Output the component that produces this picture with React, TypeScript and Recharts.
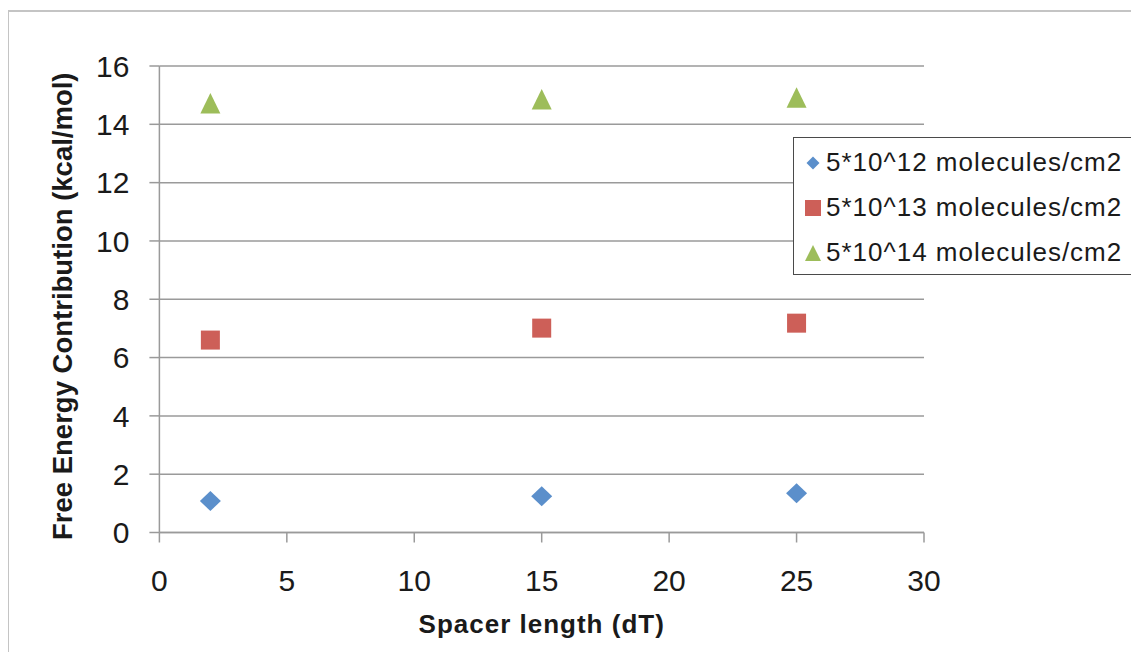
import React from 'react';
import { ScatterChart, Scatter, XAxis, YAxis, CartesianGrid } from 'recharts';

// spacer length (dT) and free energy contribution (kcal/mol) per surface density
const SPACER = [2, 15, 25];
const LOW = [1.08, 1.24, 1.35];
const MID = [6.6, 7.01, 7.18];
const HIGH = [14.72, 14.86, 14.92];

const SERIES_NAMES = ['5*10^12 molecules/cm2', '5*10^13 molecules/cm2', '5*10^14 molecules/cm2'];
const X_TICKS = [0, 5, 10, 15, 20, 25, 30];
const Y_TICKS = [0, 2, 4, 6, 8, 10, 12, 14, 16];

const BLUE = '#5B8FCB';
const RED = '#CD5F58';
const GREEN = '#9DBD5A';
const FONT = '"Liberation Sans", Arial, Helvetica, sans-serif';

const toPoints = (ys: number[]) => SPACER.map((x, i) => ({ x, y: ys[i] }));

const lowData = toPoints(LOW);
const midData = toPoints(MID);
const highData = toPoints(HIGH);

const Diamond = ({ cx, cy, fill, w = 10.5, h = 10 }: any) => (
    <polygon points={`${cx},${cy - h} ${cx + w},${cy} ${cx},${cy + h} ${cx - w},${cy}`} fill={fill} />
);

const Square = ({ cx, cy, fill, s = 9.5 }: any) => (
    <rect x={cx - s} y={cy - s} width={s * 2} height={s * 2} fill={fill} />
);

const Triangle = ({ cx, cy, fill, w = 10, h = 10.3 }: any) => (
    <polygon points={`${cx},${cy - h} ${cx + w},${cy + h} ${cx - w},${cy + h}`} fill={fill} />
);

const LEGEND_ICONS = [
    (c: string) => <Diamond cx={10} cy={10} w={6.5} h={6.5} fill={c} />,
    (c: string) => <Square cx={10} cy={10} s={8} fill={c} />,
    (c: string) => <Triangle cx={10} cy={10} w={8} h={8} fill={c} />,
];
const LEGEND_COLORS = [BLUE, RED, GREEN];

const LegendBox = () => (
    <div
        style={{
            position: 'absolute',
            left: 785,
            top: 129,
            width: 342,
            height: 138,
            boxSizing: 'border-box',
            border: '1.5px solid #4a4a4a',
            background: '#fff',
            paddingTop: 2,
            fontFamily: FONT,
        }}
    >
        {SERIES_NAMES.map((name, i) => (
            <div key={name} style={{ display: 'flex', alignItems: 'center', height: 45 }}>
                <svg width={20} height={20} style={{ marginLeft: 9, marginRight: 3 }}>
                    {LEGEND_ICONS[i](LEGEND_COLORS[i])}
                </svg>
                <span style={{ fontSize: 26, letterSpacing: 1, color: '#1a1a1a', whiteSpace: 'nowrap' }}>{name}</span>
            </div>
        ))}
    </div>
);

export default function App() {
    return (
        <div style={{ position: 'relative', width: 1131, height: 644, overflow: 'hidden', background: '#fff' }}>
            <div
                style={{
                    position: 'absolute',
                    left: -1,
                    top: 2,
                    width: 1200,
                    height: 700,
                    borderLeft: '2px solid #c4c4c4',
                    borderTop: '2px solid #c4c4c4',
                }}
            />
            <ScatterChart width={1131} height={644} margin={{ top: 58, right: 215, bottom: 0, left: 0 }}>
                <CartesianGrid vertical={false} stroke="#9a9a9a" strokeWidth={1.5} />
                <XAxis
                    type="number"
                    dataKey="x"
                    domain={[0, 30]}
                    ticks={X_TICKS}
                    interval={0}
                    height={119.5}
                    stroke="#9a9a9a"
                    strokeWidth={1.5}
                    tickSize={10}
                    tickMargin={27}
                    tick={{ fontSize: 30, fill: '#1a1a1a', fontFamily: FONT }}
                    label={{
                        value: 'Spacer length (dT)',
                        position: 'insideBottom',
                        offset: 19,
                        style: { fontSize: 26, fontWeight: 'bold', fill: '#1a1a1a', fontFamily: FONT, letterSpacing: 1 },
                    }}
                />
                <YAxis
                    type="number"
                    dataKey="y"
                    domain={[0, 16]}
                    ticks={Y_TICKS}
                    interval={0}
                    width={151.4}
                    stroke="#9a9a9a"
                    strokeWidth={1.5}
                    tickSize={10}
                    tickMargin={20}
                    tick={{ fontSize: 30, fill: '#1a1a1a', fontFamily: FONT }}
                    label={{
                        value: 'Free Energy Contribution (kcal/mol)',
                        position: 'insideLeft',
                        angle: -90,
                        offset: 54,
                        dy: 7,
                        style: { fontSize: 27.5, fontWeight: 'bold', fill: '#1a1a1a', fontFamily: FONT, textAnchor: 'middle' },
                    }}
                />
                <Scatter name={SERIES_NAMES[0]} data={lowData} fill={BLUE} isAnimationActive={false}
                    shape={(p: any) => <Diamond cx={p.cx} cy={p.cy} fill={BLUE} />} />
                <Scatter name={SERIES_NAMES[1]} data={midData} fill={RED} isAnimationActive={false}
                    shape={(p: any) => <Square cx={p.cx} cy={p.cy} fill={RED} />} />
                <Scatter name={SERIES_NAMES[2]} data={highData} fill={GREEN} isAnimationActive={false}
                    shape={(p: any) => <Triangle cx={p.cx} cy={p.cy} fill={GREEN} />} />
            </ScatterChart>
            <LegendBox />
        </div>
    );
}
